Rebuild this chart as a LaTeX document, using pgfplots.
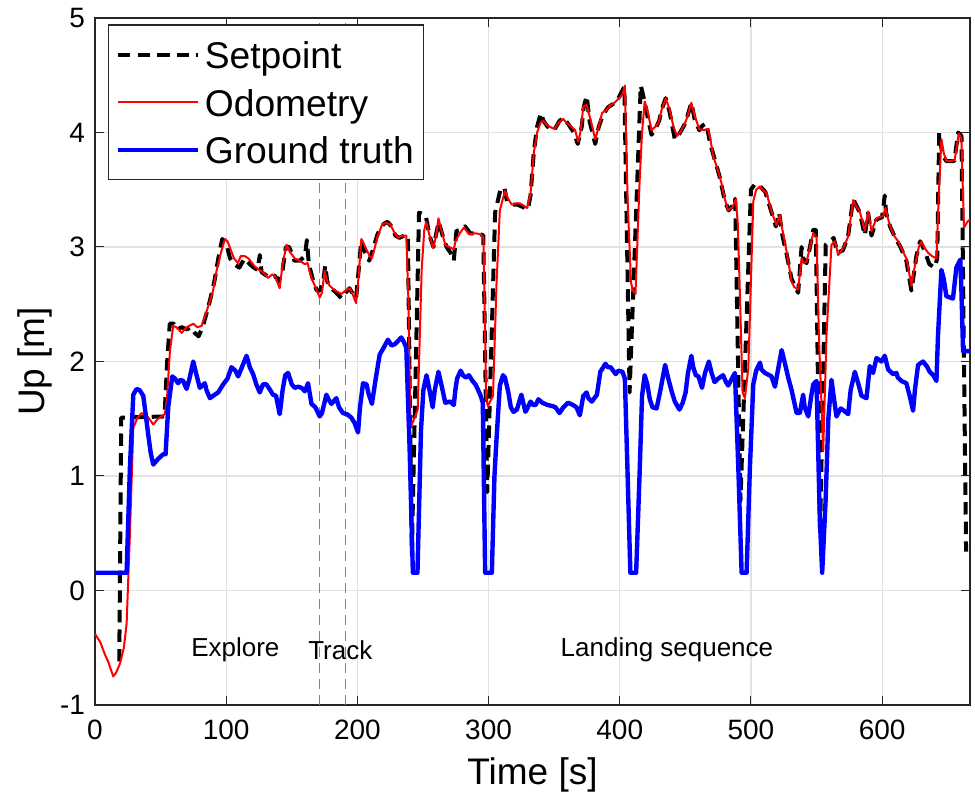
\documentclass[border=0pt]{standalone}
\usepackage{fontspec}
\setmainfont{Liberation Sans}
\usepackage{pgfplots}
\pgfplotsset{compat=1.18}
\definecolor{gridgray}{RGB}{226,226,226}
\definecolor{axgray}{RGB}{38,38,38}
\begin{document}
\begin{tikzpicture}
\begin{axis}[
  scale only axis, width=437.5pt, height=343.5pt,
  xmin=0, xmax=667, ymin=-1, ymax=5,
  xtick={0,100,...,600}, ytick={-1,0,...,5},
  grid=major, major grid style={line width=0.6pt, draw=gridgray},
  tick align=inside, major tick length=4.5pt,
  axis line style={draw=axgray, line width=0.6pt},
  every tick/.style={axgray, line width=0.5pt},
  ticklabel style={font=\fontsize{14}{16}\selectfont},
  /pgf/number format/assume math mode=true,
  xticklabel style={yshift=-4pt},
  yticklabel style={xshift=-1.5pt},
  xlabel={Time [s]}, ylabel={Up [m]},
  label style={font=\fontsize{18.5}{22}\selectfont},
  xlabel style={at={(axis description cs:0.5,-0.102)}, anchor=center},
  ylabel style={at={(axis description cs:-0.0686,0.5)}, anchor=center},
  legend style={at={(axis description cs:0.0152,0.9908)}, anchor=north west,
    draw=axgray, line width=0.6pt, font=\fontsize{18.6}{22}\selectfont,
    inner xsep=3.5pt, inner ysep=4.25pt, row sep=2.4pt,
    nodes={inner sep=1.5pt, text height=16.1pt, text depth=2.25pt},
    /tikz/every odd column/.append style={column sep=0.8pt}},
  legend cell align=left,
  legend image code/.code={\draw[#1] (0pt,0pt) -- (40pt,0pt);},
  every axis plot/.append style={line join=round},
]
\addplot[gray, dash pattern=on 5pt off 3pt, line width=0.5pt, forget plot] coordinates {(171,-1) (171,5)};
\addplot[gray, dash pattern=on 5pt off 3pt, line width=0.5pt, forget plot] coordinates {(191,-1) (191,5)};

\addplot[black, line width=2pt, dash pattern=on 6.2pt off 3.6pt] coordinates {
(18.5,-0.62) (20,1.51) (53,1.52) (55,2.0) (57,2.33) (60,2.33) (63,2.28) (66,2.3) (70,2.28) (73,2.3) (76,2.25) (79,2.22) (82,2.3) (85,2.42) (88,2.55) (91,2.7) (94,2.9) (97,3.07) (100,3.03) (103,2.9) (106,2.85) (110,2.82) (114,2.9) (118,2.85) (121,2.82) (124,2.8) (125.6,2.93) (127,2.78) (132,2.74) (137,2.75) (140,2.7) (143,2.8) (145.5,3.0) (148,3.0) (152,2.88) (156,2.88) (160,2.92) (161.5,3.06) (163,2.85) (166,2.72) (169,2.62) (171.5,2.62) (174,2.7) (175.5,2.84) (177,2.7) (180,2.64) (184,2.6) (188,2.55) (191,2.6) (194,2.64) (197,2.58) (199,2.55) (201,2.8) (203,3.06) (206,2.95) (209,2.88) (212,2.98) (215,3.1) (217,3.15) (220,3.2) (223,3.22) (226,3.18) (229,3.1) (232,3.08) (236,3.1) (238.5,3.1) (241.5,0.32) (247,3.3) (252,3.28) (255,3.1) (258,3.0) (262,3.22) (265,3.1) (268,3.0) (271,2.95) (273.5,2.88) (275.5,3.14) (279,3.15) (282,3.18) (286,3.12) (290,3.12) (294,3.11) (296,3.1) (299,0.86) (305,3.3) (309,3.5) (312,3.52) (314,3.4) (318,3.37) (322,3.37) (326,3.35) (330,3.33) (332,3.45) (334.5,3.83) (337,4.05) (339.8,4.17) (342,4.1) (345,4.05) (350,4.02) (354,4.1) (357,4.13) (361,4.07) (365,4.0) (368,3.9) (371,4.05) (372.5,4.22) (374.8,4.32) (377,4.1) (381.3,3.9) (384,4.05) (387,4.15) (391,4.22) (395,4.25) (399,4.3) (403.5,4.4) (407.5,1.73) (416,4.41) (419,4.27) (421,4.15) (424.2,3.98) (427,4.03) (430,4.1) (432,4.2) (435,4.3) (438,4.18) (442,3.94) (445,3.98) (449,4.06) (451,4.12) (454.6,4.26) (457,4.12) (460.6,4.02) (463,4.06) (466,4.08) (469,3.9) (472,3.78) (476,3.62) (480,3.41) (483,3.32) (486,3.36) (488,3.42) (492,0.78) (500,3.5) (503,3.55) (507,3.53) (511,3.48) (515,3.33) (519,3.18) (521.5,3.3) (524,3.1) (527,2.95) (531,2.72) (536,2.6) (538.6,3.0) (540,2.88) (542.4,2.86) (545,3.0) (547.5,3.15) (549.5,3.15) (552.7,0.49) (557,3.02) (561,3.05) (563,3.08) (566,2.95) (570,2.97) (574,3.09) (577.9,3.42) (583,3.3) (586.8,3.1) (589.3,3.3) (591.9,3.1) (595.7,3.24) (600,3.26) (602,3.45) (603,3.3) (606,3.18) (610,3.08) (614,3.0) (618.5,2.88) (622.3,2.62) (624,2.75) (626.1,2.92) (629,3.05) (632,2.98) (636,2.85) (640,2.82) (642,2.9) (643.5,4.0) (646,3.8) (649,3.75) (655,3.75) (658,4.0) (660.5,3.97) (664,0.34)
};
\addlegendentry{Setpoint}

\addplot[red, line width=1pt] coordinates {
(0,-0.38) (4,-0.45) (7.6,-0.56) (10,-0.62) (13.9,-0.75) (16,-0.72) (19,-0.64) (22,-0.5) (24.1,-0.29) (26.6,0.49) (29.2,1.42) (32,1.5) (35.5,1.55) (40,1.52) (44.4,1.45) (48,1.5) (53.3,1.54) (55,1.7) (57.1,2.09) (59.6,2.31) (62,2.3) (66,2.25) (70,2.3) (74.9,2.33) (78,2.3) (81.2,2.31) (84,2.4) (87.6,2.53) (90,2.62) (92.6,2.79) (96,2.95) (99,3.07) (101,3.05) (104,2.96) (106,2.9) (109,2.86) (111,2.92) (114.2,2.92) (117,2.9) (121.8,2.83) (125,2.8) (128.1,2.78) (132,2.73) (135,2.76) (137,2.75) (140.8,2.64) (143,2.85) (146,3.02) (149,2.95) (152.3,2.9) (156,2.88) (160,2.85) (162,2.86) (165,2.73) (168,2.65) (171.3,2.56) (173,2.6) (175,2.79) (177,2.7) (179,2.66) (183,2.62) (187.8,2.59) (191,2.62) (194,2.64) (196,2.6) (199,2.51) (201,2.75) (203,3.07) (206,3.0) (209.4,2.92) (211,2.9) (213.2,2.99) (215,3.08) (217,3.14) (219,3.2) (222,3.21) (225,3.2) (228,3.13) (231,3.08) (234,3.1) (237.3,3.1) (239,2.5) (240.5,1.42) (244,1.52) (246,1.58) (249,2.8) (251,3.15) (252.5,3.22) (255,3.1) (257.9,2.99) (260,3.1) (261.8,3.25) (264,3.15) (267,3.02) (270,3.0) (273.5,2.98) (274.8,3.05) (278,3.12) (281.3,3.17) (285.2,3.11) (290,3.12) (294.3,3.11) (296.1,3.08) (298.2,1.67) (299.5,1.61) (303.4,1.7) (306,2.66) (308.6,3.32) (312.5,3.49) (315,3.42) (317.7,3.37) (321,3.38) (324.2,3.38) (329.4,3.34) (332,3.47) (334.6,3.83) (337,4.0) (339.8,4.09) (342,4.1) (345,4.06) (350.2,4.03) (353,4.08) (356.7,4.12) (360,4.08) (363.2,4.05) (366,4.02) (368.3,3.92) (370,4.0) (372.3,4.23) (374.8,4.24) (378,4.1) (381.3,3.94) (384,4.05) (386.5,4.17) (390,4.2) (393,4.24) (396,4.26) (399.5,4.3) (402,4.33) (403.9,4.41) (406,3.41) (408.6,2.69) (410,2.62) (412,2.59) (415.1,3.56) (417,4.0) (419,4.27) (421,4.2) (424.2,4.02) (427,4.05) (429.4,4.08) (432,4.2) (435.1,4.3) (438,4.2) (441,4.05) (443.7,3.97) (446,4.0) (448.9,4.06) (451,4.12) (454.6,4.26) (457,4.15) (460.6,4.03) (464,4.02) (467.1,4.03) (469,3.95) (471,3.8) (474,3.7) (477.5,3.56) (480,3.42) (482.7,3.32) (486,3.35) (488.5,3.42) (490,3.2) (491.8,2.51) (493.6,1.73) (495.4,1.68) (498,1.94) (500,2.7) (501.8,3.4) (504,3.5) (506.9,3.53) (509,3.5) (511.9,3.47) (515.7,3.31) (519.5,3.19) (522,3.28) (524,3.15) (527.2,2.96) (531,2.7) (533,2.65) (536,2.63) (538.6,2.9) (540,2.86) (542.4,2.87) (545,3.0) (547.5,3.12) (549,3.1) (550,3.08) (551.8,2.23) (555.1,1.22) (557.6,2.23) (561.4,3.02) (564,3.05) (566.5,2.93) (570.3,2.99) (574.1,3.09) (576,3.25) (577.9,3.41) (580,3.36) (583,3.31) (586.8,3.14) (589.3,3.31) (591.9,3.14) (595.7,3.25) (598,3.26) (600.8,3.27) (602.5,3.34) (605.8,3.19) (609,3.1) (612.2,3.05) (615,2.98) (618.5,2.9) (620.5,2.78) (622.3,2.66) (624,2.78) (626.1,2.9) (628,3.0) (630,3.05) (632,3.0) (635,2.95) (638,2.92) (641.4,2.9) (643,3.4) (645.2,3.94) (647,3.82) (649,3.75) (652,3.75) (655.3,3.76) (658.4,3.99) (660.4,3.95) (662.4,3.17) (665,3.22) (667,3.24)
};
\addlegendentry{Odometry}

\addplot[blue, line width=2.2pt] coordinates {
(0,0.155) (24.1,0.155) (26.6,1.07) (29.2,1.71) (31.7,1.76) (34,1.75) (36.8,1.7) (38.5,1.55) (40.6,1.36) (42.5,1.2) (44.4,1.1) (48.2,1.15) (52,1.19) (53.8,1.19) (55.8,1.6) (58.9,1.87) (61,1.85) (63.4,1.81) (65,1.84) (67.2,1.83) (69.8,1.76) (72,1.85) (74.9,2.0) (77,1.9) (79.9,1.77) (83.7,1.81) (85,1.75) (87.6,1.68) (90,1.7) (93.9,1.73) (97.7,1.8) (101,1.85) (104,1.95) (107,1.92) (109.1,1.87) (112,1.95) (115.5,2.05) (118,1.95) (120.5,1.89) (123,1.8) (125.6,1.73) (128,1.8) (130.7,1.8) (133,1.76) (135.7,1.71) (138,1.7) (140.8,1.54) (143,1.75) (145,1.88) (147.2,1.9) (150,1.8) (152.3,1.77) (155,1.78) (157.4,1.77) (160,1.74) (162.4,1.81) (165,1.63) (168,1.6) (171.3,1.52) (173,1.55) (176.4,1.71) (178,1.67) (180.2,1.63) (184,1.68) (186,1.6) (189,1.55) (192,1.54) (195.4,1.51) (198,1.46) (200.5,1.38) (202,1.6) (204.3,1.81) (207,1.8) (208.5,1.72) (211.1,1.63) (214,1.85) (217,2.06) (220,2.12) (223.3,2.19) (226,2.14) (228.4,2.15) (231,2.18) (233.5,2.21) (235.5,2.17) (237.3,2.12) (239.8,1.25) (242.3,0.155) (245.8,0.155) (248.5,1.4) (250.3,1.75) (252.7,1.88) (255,1.75) (257.4,1.6) (259,1.75) (261.8,1.91) (264,1.8) (267,1.64) (270.9,1.65) (273.5,1.62) (274.8,1.76) (276,1.85) (278.7,1.92) (280.5,1.88) (282.6,1.86) (285,1.88) (287.8,1.83) (290,1.8) (291.7,1.76) (294,1.7) (295.6,1.64) (297.4,0.155) (302.5,0.155) (304.5,1.0) (306,1.31) (308.6,1.79) (311,1.88) (312.5,1.86) (315.1,1.73) (317,1.6) (319,1.56) (321.6,1.58) (325,1.71) (328.1,1.56) (330,1.6) (332,1.65) (334,1.62) (335.9,1.62) (338,1.67) (341,1.64) (345,1.62) (348.9,1.61) (351,1.6) (354.1,1.55) (357,1.6) (360.6,1.64) (364.4,1.62) (367,1.6) (369.6,1.53) (372.2,1.7) (374.8,1.73) (376,1.68) (378.7,1.65) (382.6,1.71) (385.2,1.91) (389.1,1.98) (391,1.95) (393,1.95) (396.9,1.89) (399,1.92) (402.1,1.91) (403.9,1.85) (406,1.01) (408.1,0.155) (412.5,0.155) (415.1,1.01) (417,1.7) (419,1.88) (421,1.8) (422.9,1.67) (425,1.6) (428.1,1.59) (431,1.75) (434.6,1.97) (437,1.85) (439.8,1.73) (442,1.65) (445.5,1.58) (448,1.64) (450.2,1.73) (452,1.9) (454.6,2.05) (456,1.95) (458,1.88) (460,1.87) (462.7,1.77) (465,1.9) (467.9,2.0) (470,1.9) (472.3,1.82) (475,1.85) (478.8,1.88) (481,1.82) (482.7,1.79) (485,1.84) (487.8,1.9) (490.4,1.07) (492.9,0.155) (496.7,0.155) (499.2,1.07) (501.8,1.8) (504,1.92) (506.9,1.99) (508,1.93) (510.7,1.9) (515.7,1.87) (518.3,1.78) (521,1.95) (523.4,2.1) (526,1.98) (528.4,1.86) (531,1.75) (534.8,1.55) (537.3,1.55) (539.8,1.71) (541,1.6) (543.7,1.52) (546,1.7) (547.5,1.8) (550,1.83) (552.5,0.63) (554.3,0.155) (556.9,0.78) (559,1.5) (561.4,1.84) (563,1.7) (565.2,1.52) (566.5,1.55) (568.5,1.59) (571,1.57) (574.1,1.54) (576,1.75) (579.2,1.91) (582,1.8) (584.3,1.7) (588.1,1.68) (590.6,1.96) (593.1,1.9) (595.7,2.03) (599.5,2.0) (602,2.05) (604.6,1.93) (608.4,1.89) (610.9,1.9) (612,1.86) (614.7,1.83) (618.5,1.81) (621,1.7) (623.6,1.57) (625,1.75) (627.4,1.97) (631.2,2.0) (634,1.96) (636.3,1.91) (639,1.88) (641.4,1.83) (642.6,2.23) (645.2,2.8) (647,2.72) (649,2.57) (654,2.55) (656.6,2.82) (659.6,2.89) (660.5,2.6) (661.7,2.09) (667,2.09)
};
\addlegendentry{Ground truth}

\node[font=\fontsize{13}{15}\selectfont] at (axis cs:107,-0.52) {Explore};
\node[font=\fontsize{13}{15}\selectfont] at (axis cs:187,-0.52) {Track};
\node[font=\fontsize{13}{15}\selectfont] at (axis cs:436,-0.52) {Landing sequence};
\end{axis}
\pgfresetboundingbox
\path (-47.5pt,-49pt) rectangle (440pt,352.5pt);
\end{tikzpicture}
\end{document}
